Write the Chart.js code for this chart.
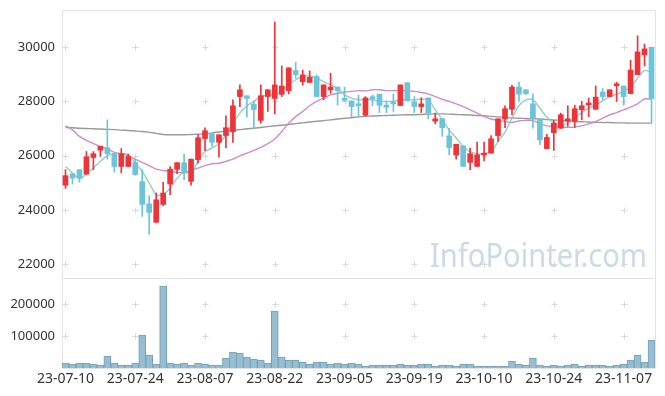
<!DOCTYPE html>
<html>
<head>
<meta charset="utf-8">
<script src="https://cdn.jsdelivr.net/npm/chart.js@4.4.0/dist/chart.umd.min.js"></script>
<style>
  html, body { margin: 0; padding: 0; background: #fff; }
  #wrap { width: 665px; height: 396px; position: relative; }
</style>
</head>
<body>
<div id="wrap"><canvas id="chart"></canvas></div>
<script>
  const DATES = [
    "23-07-10", "23-07-11", "23-07-12", "23-07-13", "23-07-14", "23-07-17", "23-07-18", "23-07-19", "23-07-20", "23-07-21",
    "23-07-24", "23-07-25", "23-07-26", "23-07-27", "23-07-28", "23-07-31", "23-08-01", "23-08-02", "23-08-03", "23-08-04",
    "23-08-07", "23-08-08", "23-08-09", "23-08-10", "23-08-11", "23-08-14", "23-08-16", "23-08-17", "23-08-18", "23-08-21",
    "23-08-22", "23-08-23", "23-08-24", "23-08-25", "23-08-28", "23-08-29", "23-08-30", "23-08-31", "23-09-01", "23-09-04",
    "23-09-05", "23-09-06", "23-09-07", "23-09-08", "23-09-11", "23-09-12", "23-09-13", "23-09-14", "23-09-15", "23-09-18",
    "23-09-19", "23-09-20", "23-09-21", "23-09-22", "23-09-25", "23-09-26", "23-09-27", "23-10-04", "23-10-05", "23-10-06",
    "23-10-10", "23-10-11", "23-10-12", "23-10-13", "23-10-16", "23-10-17", "23-10-18", "23-10-19", "23-10-20", "23-10-23",
    "23-10-24", "23-10-25", "23-10-26", "23-10-27", "23-10-30", "23-10-31", "23-11-01", "23-11-02", "23-11-03", "23-11-06",
    "23-11-07", "23-11-08", "23-11-09", "23-11-10", "23-11-13"
  ];

  const OPEN = [
    24910, 25330, 25480, 25320, 25930, 26200, 26290, 26070, 25600, 25600,
    25750, 25040, 24220, 23540, 24200, 24950, 25490, 25740, 25050, 25850,
    26630, 26810, 26490, 26740, 26880, 28180, 28210, 27900, 27300, 28180,
    28110, 28260, 28400, 29140, 28730, 28700, 28920, 28180, 28430, 28530,
    28060, 28020, 27850, 27490, 28120, 28270, 27800, 27920, 27850, 28690,
    27980, 27810, 28130, 27270, 27360, 26730, 26020, 26360, 25750, 25600,
    26020, 26090, 26740, 27350, 27710, 28530, 28430, 27910, 27350, 26260,
    26850, 27010, 27270, 27260, 27690, 27870, 27710, 28350, 28180, 28580,
    28570, 28290, 28990, 29720, 30000
  ];
  const HIGH = [
    25480, 25340, 25480, 26150, 26150, 26350, 27320, 26070, 26260, 26060,
    25870, 25480, 24520, 24620, 25010, 25600, 25740, 26060, 25870, 26770,
    27030, 26830, 26770, 27470, 28060, 28610, 28210, 28020, 28610, 28430,
    30930, 29310, 29240, 29440, 29160, 29130, 28980, 28610, 29040, 28530,
    28530, 28020, 28240, 28180, 28240, 28270, 28020, 28270, 28610, 28690,
    28180, 28140, 28130, 27570, 27360, 27010, 26420, 26360, 26280, 26500,
    26500, 26740, 27360, 27840, 28600, 28710, 28430, 28270, 27350, 26790,
    27300, 27570, 27840, 27860, 28000, 28120, 28570, 28480, 28430, 28710,
    28570, 29520, 30420, 30120, 30000
  ];
  const LOW = [
    24790, 24950, 25020, 25300, 25480, 25970, 25870, 25390, 25360, 25600,
    25280, 23760, 23100, 23540, 24150, 24560, 25330, 25110, 24910, 25720,
    26180, 26340, 25940, 26280, 26490, 27810, 27420, 27000, 27200, 27630,
    27540, 28180, 28280, 28860, 28600, 28700, 28180, 28060, 28300, 27860,
    28000, 27440, 27420, 27470, 27840, 27590, 27590, 27630, 27850, 28020,
    27590, 27590, 27360, 27170, 26710, 26030, 25870, 25600, 25480, 25600,
    25800, 26090, 26520, 27030, 27500, 28000, 28250, 27010, 26400, 26260,
    26190, 27010, 27080, 27040, 27320, 27440, 27710, 28060, 28180, 28000,
    27860, 28290, 28990, 29310, 27200
  ];
  const CLOSE = [
    25260, 25170, 25170, 25960, 26070, 26340, 26070, 25600, 26070, 25970,
    25300, 24200, 23900, 24370, 24620, 25500, 25740, 25360, 25870, 26660,
    26920, 26490, 26770, 27030, 27840, 28430, 28110, 27700, 28210, 28430,
    28610, 28570, 29240, 28990, 28980, 28890, 28180, 28610, 28530, 28400,
    28040, 27810, 27840, 28130, 28100, 27860, 27790, 27910, 28610, 28020,
    27810, 27910, 27570, 27360, 27030, 26300, 26420, 25600, 26070, 26030,
    26070, 26620, 27360, 27730, 28530, 28270, 28290, 27380, 26580, 26670,
    27200, 27510, 27360, 27730, 27840, 27900, 28160, 28180, 28430, 28600,
    28180, 29160, 29830, 29940, 28110
  ];
  const VOLUME = [
    15600, 12500, 15600, 15600, 12500, 9400, 37500, 15600, 9400, 9400,
    15600, 103000, 40600, 12500, 256000, 15600, 12500, 15600, 9400, 15600,
    12500, 9400, 9400, 31300, 50000, 46900, 34400, 28100, 25000, 15600,
    178000, 34400, 25000, 25000, 18800, 12500, 18800, 18800, 12500, 15600,
    12500, 15600, 12500, 6300, 9400, 9400, 9400, 9400, 12500, 9400,
    9400, 12500, 12500, 6300, 9400, 9400, 6300, 12500, 12500, 6300,
    6300, 6300, 6300, 6300, 21900, 12500, 9400, 31300, 9400, 6300,
    9400, 6300, 9400, 12500, 6300, 9400, 9400, 9400, 6300, 9400,
    12500, 25000, 40600, 18800, 87500
  ];
  const MA5 = [
    25600, 25360, 25150, 25330, 25540, 25790, 25990, 26070, 26070, 26030,
    25720, 25420, 24990, 24560, 24560, 24800, 25170, 25380, 25360, 25790,
    26150, 26280, 26440, 26770, 27200, 27570, 27840, 28000, 28180, 28240,
    28240, 28400, 28610, 28800, 28920, 28940, 28860, 28730, 28610, 28490,
    28240, 28120, 28060, 28060, 28060, 28000, 28000, 28000, 28060, 28060,
    28060, 28080, 28060, 27690, 27320, 26950, 26650, 26340, 26150, 26070,
    26070, 26150, 26520, 26870, 27380, 27840, 28060, 28060, 27750, 27420,
    27220, 27100, 27200, 27380, 27590, 27750, 27870, 28020, 28180, 28270,
    28370, 28530, 28860, 29140, 29070
  ];
  const MA20 = [
    27100, 26950, 26710, 26560, 26440, 26340, 26240, 26120, 26070, 25990,
    25870, 25750, 25630, 25500, 25450, 25420, 25380, 25380, 25450, 25540,
    25630, 25700, 25720, 25790, 25870, 25990, 26090, 26190, 26300, 26440,
    26610, 26890, 27200, 27440, 27630, 27840, 28000, 28120, 28240, 28300,
    28340, 28370, 28400, 28390, 28430, 28430, 28400, 28400, 28400, 28400,
    28370, 28330, 28280, 28180, 28080, 28000, 27910, 27810, 27690, 27570,
    27440, 27350, 27300, 27260, 27220, 27280, 27300, 27300, 27170, 27100,
    27080, 27050, 27050, 27050, 27100, 27170, 27260, 27380, 27500, 27590,
    27690, 27790, 27910, 28090, 28080
  ];
  const MA60 = [
    27040, 27030, 27010, 27000, 26990, 26980, 26970, 26960, 26940, 26930,
    26910, 26890, 26860, 26820, 26780, 26770, 26770, 26770, 26780, 26790,
    26800, 26840, 26870, 26900, 26930, 26960, 26990, 27010, 27040, 27070,
    27100, 27120, 27150, 27180, 27210, 27240, 27270, 27290, 27320, 27350,
    27380, 27400, 27430, 27450, 27460, 27470, 27480, 27490, 27500, 27510,
    27510, 27520, 27530, 27540, 27540, 27530, 27520, 27510, 27500, 27480,
    27470, 27450, 27430, 27410, 27390, 27380, 27370, 27360, 27350, 27330,
    27320, 27300, 27280, 27260, 27250, 27240, 27230, 27220, 27220, 27210,
    27210, 27200, 27200, 27200, 27200
  ];

  const PRICE_TICKS = [22000, 24000, 26000, 28000, 30000];
  const VOLUME_TICKS = [100000, 200000];

  const COLORS = {
    up: "#EE3339",
    down: "#6CC4DA",
    ma5: "#93CFC5",
    ma20: "#CC8FC4",
    ma60: "#9A9A9A",
    volFill: "#97BDD0",
    volLine: "#73A2B9",
    frame: "#E3E3E3",
    cross: "#D9D9D9",
    text: "#333333",
    mark: "#C9DBE7",
  };
  const FONT = "'Noto Sans', 'DejaVu Sans', sans-serif";

  const candleColor = OPEN.map((o, i) => (CLOSE[i] >= o ? COLORS.up : COLORS.down));

  // grid crosses, frame lines and the watermark
  const framePlugin = {
    id: "frame",
    beforeDatasetsDraw(chart) {
      const { ctx, chartArea, scales } = chart;
      const x = scales.x, y = scales.y, yv = scales.yv;
      ctx.save();

      // watermark, squeezed to the width it has in the source
      ctx.font = "32px " + FONT;
      ctx.fillStyle = COLORS.mark;
      ctx.textAlign = "left";
      ctx.textBaseline = "alphabetic";
      const mark = "InfoPointer.com";
      const sx = 217 / ctx.measureText(mark).width;
      ctx.save();
      ctx.translate(chartArea.right - 8 - 217, y.bottom - 11);
      ctx.scale(sx, 1);
      ctx.fillText(mark, 0, 0);
      ctx.restore();

      ctx.strokeStyle = COLORS.cross;
      ctx.lineWidth = 1;
      const rows = PRICE_TICKS.map((v) => y.getPixelForValue(v))
        .concat(VOLUME_TICKS.map((v) => yv.getPixelForValue(v)));
      DATES.forEach((d, i) => {
        if (i % 10 !== 0) return;
        const px = Math.round(x.getPixelForValue(i)) + 0.5;
        rows.forEach((py) => {
          py = Math.round(py) + 0.5;
          ctx.beginPath();
          ctx.moveTo(px - 3, py);
          ctx.lineTo(px + 3, py);
          ctx.moveTo(px, py - 3);
          ctx.lineTo(px, py + 3);
          ctx.stroke();
        });
      });

      ctx.strokeStyle = COLORS.frame;
      const l = Math.round(chartArea.left) + 0.5;
      const r = Math.round(chartArea.right) + 0.5;
      const t = Math.round(chartArea.top) + 0.5;
      const b = Math.round(chartArea.bottom) + 0.5;
      const mid = Math.round(y.bottom) + 0.5;
      ctx.beginPath();
      ctx.moveTo(l, t); ctx.lineTo(r, t); ctx.lineTo(r, b); ctx.lineTo(l, b); ctx.lineTo(l, t);
      ctx.moveTo(l, mid); ctx.lineTo(r, mid);
      ctx.stroke();
      ctx.restore();
    },
  };

  const fixedTicks = (values) => (s) => {
    s.ticks = values.map((v) => ({ value: v }));
  };
  const fitLeft = (s) => {
    s.width = 62;
    s.paddingTop = 0;
    s.paddingBottom = 0;
  };

  new Chart(document.getElementById("chart").getContext("2d"), {
    type: "bar",
    data: {
      labels: DATES,
      datasets: [
        {
          type: "line",
          data: MA60,
          yAxisID: "y",
          borderColor: COLORS.ma60,
          borderWidth: 1.4,
          pointRadius: 0,
          tension: 0.3,
          order: 5,
        },
        {
          type: "line",
          data: MA20,
          yAxisID: "y",
          borderColor: COLORS.ma20,
          borderWidth: 1.4,
          pointRadius: 0,
          tension: 0.3,
          order: 4,
        },
        {
          type: "line",
          data: MA5,
          yAxisID: "y",
          borderColor: COLORS.ma5,
          borderWidth: 1.4,
          pointRadius: 0,
          tension: 0.3,
          order: 3,
        },
        {
          data: VOLUME,
          yAxisID: "yv",
          backgroundColor: COLORS.volFill,
          borderColor: COLORS.volLine,
          borderWidth: 1,
          barPercentage: 1,
          categoryPercentage: 1,
          grouped: false,
          order: 2,
        },
        {
          data: LOW.map((l, i) => [l, HIGH[i]]),
          yAxisID: "y",
          backgroundColor: candleColor,
          barThickness: 1,
          grouped: false,
          order: 1,
        },
        {
          data: OPEN.map((o, i) => [o, CLOSE[i]]),
          yAxisID: "y",
          backgroundColor: candleColor,
          barThickness: 5,
          minBarLength: 2,
          grouped: false,
          order: 0,
        },
      ],
    },
    options: {
      responsive: true,
      maintainAspectRatio: false,
      animation: false,
      layout: { padding: { top: 10, right: 10, left: 0, bottom: 0 } },
      plugins: {
        legend: { display: false },
        tooltip: { enabled: false },
      },
      scales: {
        x: {
          type: "category",
          offset: true,
          grid: { display: false, drawTicks: false },
          border: { display: false },
          ticks: {
            autoSkip: false,
            maxRotation: 0,
            padding: 3,
            color: COLORS.text,
            font: { family: FONT, size: 14 },
            callback: (v, i) => (i % 10 === 0 ? DATES[i] : ""),
          },
          afterFit: (s) => {
            s.height = 28;
            s.paddingLeft = 0;
            s.paddingRight = 0;
          },
        },
        yv: {
          position: "left",
          stack: "panes",
          stackWeight: 90,
          min: 0,
          max: 281250,
          grid: { display: false, drawTicks: false },
          border: { display: false },
          ticks: {
            padding: 7,
            color: COLORS.text,
            font: { family: FONT, size: 13 },
            callback: (v) => String(v),
          },
          afterBuildTicks: fixedTicks(VOLUME_TICKS),
          afterFit: fitLeft,
        },
        y: {
          position: "left",
          stack: "panes",
          stackWeight: 268,
          min: 21483,
          max: 31375,
          grid: { display: false, drawTicks: false },
          border: { display: false },
          ticks: {
            padding: 7,
            color: COLORS.text,
            font: { family: FONT, size: 13 },
            callback: (v) => String(v),
          },
          afterBuildTicks: fixedTicks(PRICE_TICKS),
          afterFit: fitLeft,
        },
      },
    },
    plugins: [framePlugin],
  });
</script>
</body>
</html>
